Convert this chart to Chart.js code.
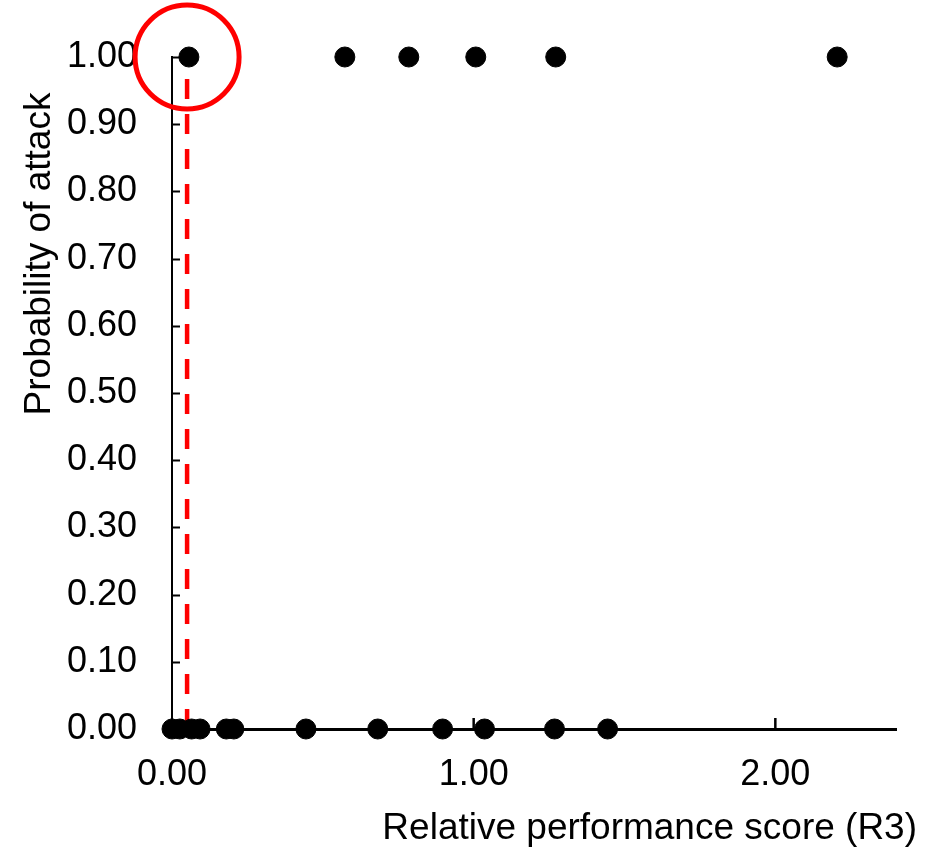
<!DOCTYPE html>
<html>
<head>
<meta charset="utf-8">
<script src="https://cdn.jsdelivr.net/npm/chart.js@4"></script>
<style>
  body { margin: 0; background: #fff; }
</style>
</head>
<body>
<canvas id="chart" width="925" height="850"></canvas>
<script>
// attacked (probability 1) and not attacked (probability 0) cases
const attackedX = [0.056, 0.573, 0.785, 1.007, 1.272, 2.205];
const notAttackedX = [0.0, 0.026, 0.065, 0.093, 0.18, 0.205, 0.444, 0.682, 0.897, 1.036, 1.268, 1.444];
const thresholdX = 0.05;

const xTicks = [0, 1, 2];
const yTicks = [0, 0.1, 0.2, 0.3, 0.4, 0.5, 0.6, 0.7, 0.8, 0.9, 1.0];

const xTitle = "Relative performance score (R3)";
const yTitle = "Probability of attack";

const FONT = "'Liberation Sans', Arial, sans-serif";

// draws inside tick marks and the two axis titles
const decorations = {
  id: "decorations",
  afterDraw(chart) {
    const ctx = chart.ctx;
    const xs = chart.scales.x;
    const ys = chart.scales.y;
    const area = chart.chartArea;

    ctx.save();
    ctx.strokeStyle = "#000";
    ctx.lineWidth = 2;
    yTicks.forEach(v => {
      const py = Math.round(ys.getPixelForValue(v)) + 0.5;
      ctx.beginPath();
      ctx.moveTo(area.left, py);
      ctx.lineTo(area.left + 8, py);
      ctx.stroke();
    });
    ctx.lineWidth = 2.5;
    xTicks.forEach(v => {
      const px = xs.getPixelForValue(v);
      ctx.beginPath();
      ctx.moveTo(px, area.bottom);
      ctx.lineTo(px, area.bottom - 11);
      ctx.stroke();
    });

    ctx.fillStyle = "#000";
    ctx.font = "37px " + FONT;
    ctx.textBaseline = "alphabetic";
    ctx.textAlign = "right";
    ctx.fillText(xTitle, 917, 839);

    ctx.translate(50, 254);
    ctx.rotate(-Math.PI / 2);
    ctx.textAlign = "center";
    ctx.fillText(yTitle, 0, 0);
    ctx.restore();
  }
};

const ctx = document.getElementById("chart").getContext("2d");

new Chart(ctx, {
  type: "scatter",
  data: {
    datasets: [
      {
        label: "Attacked",
        data: attackedX.map(x => ({ x: x, y: 1 })),
        pointRadius: 10,
        pointHoverRadius: 10,
        backgroundColor: "#000",
        borderColor: "#000",
        clip: false
      },
      {
        label: "Not attacked",
        data: notAttackedX.map(x => ({ x: x, y: 0 })),
        pointRadius: 10,
        pointHoverRadius: 10,
        backgroundColor: "#000",
        borderColor: "#000",
        clip: false
      },
      {
        label: "Threshold",
        data: [{ x: thresholdX, y: 0 }, { x: thresholdX, y: 1 }],
        showLine: true,
        borderColor: "#ff0000",
        borderWidth: 4.5,
        borderDash: [20, 15],
        pointRadius: 0,
        clip: false
      },
      {
        label: "Highlight",
        data: [{ x: thresholdX, y: 1 }],
        pointRadius: 52,
        pointHoverRadius: 52,
        pointBorderWidth: 5,
        borderColor: "#ff0000",
        backgroundColor: "rgba(0,0,0,0)",
        clip: false
      }
    ]
  },
  options: {
    responsive: false,
    animation: false,
    layout: {
      autoPadding: false,
      padding: { top: 57, right: 29, left: 0, bottom: 0 }
    },
    plugins: {
      legend: { display: false },
      tooltip: { enabled: false }
    },
    scales: {
      x: {
        type: "linear",
        min: 0,
        max: 2.4,
        afterBuildTicks: axis => {
          axis.ticks = xTicks.map(v => ({ value: v }));
        },
        afterFit: axis => {
          axis.height = 121;
          axis.paddingLeft = 0;
          axis.paddingRight = 0;
        },
        grid: { display: false, drawTicks: false },
        border: { display: true, color: "#000", width: 3 },
        ticks: {
          padding: 24,
          color: "#000",
          font: { family: FONT, size: 36 },
          callback: v => Number(v).toFixed(2)
        }
      },
      y: {
        type: "linear",
        min: 0,
        max: 1,
        afterBuildTicks: axis => {
          axis.ticks = yTicks.map(v => ({ value: v }));
        },
        afterFit: axis => {
          axis.width = 172;
          axis.paddingTop = 0;
          axis.paddingBottom = 0;
        },
        grid: { display: false, drawTicks: false },
        border: { display: true, color: "#000", width: 2 },
        ticks: {
          padding: 35,
          color: "#000",
          font: { family: FONT, size: 36 },
          callback: v => Number(v).toFixed(2)
        }
      }
    }
  },
  plugins: [decorations]
});
</script>
</body>
</html>
